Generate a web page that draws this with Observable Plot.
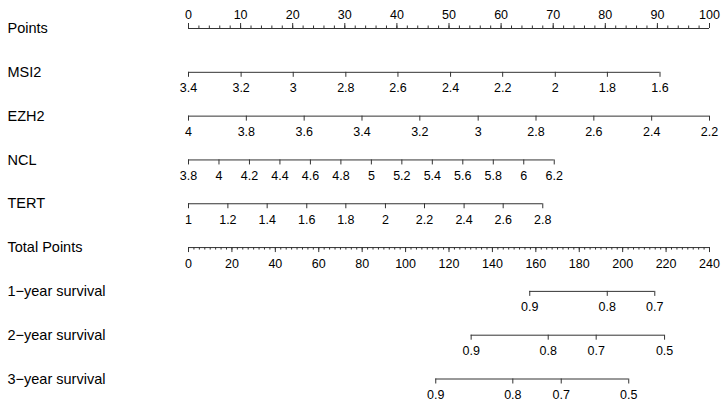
<!DOCTYPE html>
<html><head><meta charset="utf-8">
<script src="https://cdn.jsdelivr.net/npm/d3@7"></script>
<script src="https://cdn.jsdelivr.net/npm/@observablehq/plot@0.6"></script>
<style>
body{margin:0;background:#fff}
</style>
</head><body><div id="chart"></div>
<script>
// ---- data ----
const rowNames = ["Points","MSI2","EZH2","NCL","TERT","Total Points","1\u2212year survival","2\u2212year survival","3\u2212year survival"];

const pointsMajor = [0,10,20,30,40,50,60,70,80,90,100];
const pointsMinorStep = 2;
const totalMajor = [0,20,40,60,80,100,120,140,160,180,200,220,240];
const totalMinorStep = 2.5;
const pointsMax = 100, totalMax = 240;

const msi2Labels = [3.4,3.2,3,2.8,2.6,2.4,2.2,2,1.8,1.6];
const msi2Points = [0,10.1,20.1,30.2,40.2,50.3,60.3,70.4,80.4,90.5];

const ezh2Labels = [4,3.8,3.6,3.4,3.2,3,2.8,2.6,2.4,2.2];
const ezh2Points = [0,11.1,22.2,33.3,44.4,55.6,66.7,77.8,88.9,100];

const nclLabels = [3.8,4,4.2,4.4,4.6,4.8,5,5.2,5.4,5.6,5.8,6,6.2];
const nclPoints = [0,5.85,11.7,17.55,23.4,29.25,35.1,40.95,46.8,52.65,58.5,64.35,70.2];

const tertLabels = [1,1.2,1.4,1.6,1.8,2,2.2,2.4,2.6,2.8];
const tertPoints = [0,7.56,15.1,22.7,30.2,37.8,45.3,52.9,60.4,68.0];

const surv1Labels = [0.9,0.8,0.7];
const surv1Total = [157.2,192.9,214.8];
const surv2Labels = [0.9,0.8,0.7,0.5];
const surv2Total = [130.2,165.7,187.8,219.3];
const surv3Labels = [0.9,0.8,0.7,0.5];
const surv3Total = [113.9,149.4,171.7,202.8];

// ---- build tables ----
const toPts = t => t * pointsMax / totalMax;
const axesDown = [
  {row:1, labels:msi2Labels, x:msi2Points},
  {row:2, labels:ezh2Labels, x:ezh2Points},
  {row:3, labels:nclLabels, x:nclPoints},
  {row:4, labels:tertLabels, x:tertPoints},
  {row:6, labels:surv1Labels, x:surv1Total.map(toPts)},
  {row:7, labels:surv2Labels, x:surv2Total.map(toPts)},
  {row:8, labels:surv3Labels, x:surv3Total.map(toPts)}
];
const downTicks = axesDown.flatMap(a => a.labels.map((l,i) => ({row:a.row, x:a.x[i], label:String(l)})));
const totalTicks = totalMajor.map(t => ({row:5, x:toPts(t), label:String(t)}));
const totalMinor = d3.range(0, totalMax + 0.001, totalMinorStep).map(t => ({row:5, x:toPts(t)}));
const ptsTicks = pointsMajor.map(p => ({row:0, x:p, label:String(p)}));
const ptsMinor = d3.range(0, pointsMax + 0.001, pointsMinorStep).map(p => ({row:0, x:p}));

const lines = [
  {row:0, x1:0, x2:pointsMax},
  ...axesDown.map(a => ({row:a.row, x1:d3.min(a.x), x2:d3.max(a.x)})),
  {row:5, x1:0, x2:toPts(totalMax)}
];
const rows = rowNames.map((name,i) => ({row:i, name}));

const ink = "#333";
const chart = Plot.plot({
  width: 723,
  height: 406,
  marginLeft: 188,
  marginRight: 14,
  marginTop: 28,
  marginBottom: 27.5,
  style: {fontFamily: "'Liberation Sans', Arial, sans-serif", background: "#fff"},
  x: {domain:[0, pointsMax], axis:null},
  y: {domain:[0, 8], range:[28, 378.5], axis:null},
  marks: [
    Plot.ruleY(lines, {y:"row", x1:"x1", x2:"x2", stroke:ink, strokeWidth:1}),
    // Points axis: ticks upward
    Plot.ruleX(ptsMinor, {x:"x", y1:"row", y2:"row", insetTop:-2.5, stroke:ink}),
    Plot.ruleX(ptsTicks, {x:"x", y1:"row", y2:"row", insetTop:-5, stroke:ink}),
    Plot.text(ptsTicks, {x:"x", y:"row", text:"label", dy:-14, fontSize:12.5, fill:"#000"}),
    // Total points axis: ticks downward
    Plot.ruleX(totalMinor, {x:"x", y1:"row", y2:"row", insetBottom:-2.5, stroke:ink}),
    Plot.ruleX(totalTicks, {x:"x", y1:"row", y2:"row", insetBottom:-5, stroke:ink}),
    Plot.text(totalTicks, {x:"x", y:"row", text:"label", dy:16, fontSize:12.5, fill:"#000"}),
    // variable & survival axes: ticks downward
    Plot.ruleX(downTicks, {x:"x", y1:"row", y2:"row", insetBottom:-5, stroke:ink}),
    Plot.text(downTicks, {x:"x", y:"row", text:"label", dy:16, fontSize:12.5, fill:"#000"}),
    // row labels
    Plot.text(rows, {y:"row", text:"name", frameAnchor:"left", textAnchor:"start", dx:-181, fontSize:14.5, fill:"#000"})
  ]
});
document.getElementById("chart").appendChild(chart);
</script>
</body></html>
